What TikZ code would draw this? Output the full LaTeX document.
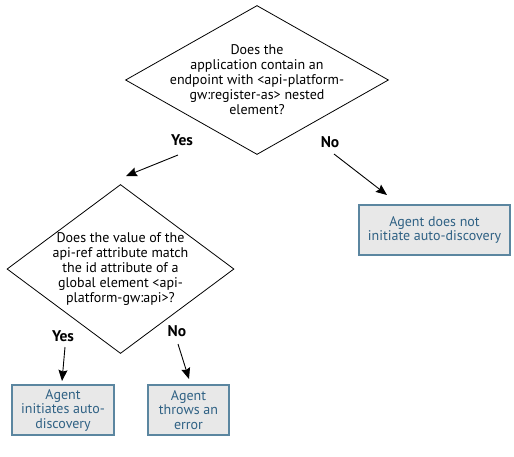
\documentclass[tikz,border=0pt]{standalone}
\usepackage{fontspec}
\setmainfont{PT Sans}
\usetikzlibrary{shapes.geometric,arrows.meta}
\definecolor{boxfill}{HTML}{E8E8E8}
\definecolor{boxline}{HTML}{5B86A0}
\definecolor{boxtext}{HTML}{2F6184}
\tikzset{
  question/.style={diamond, draw=black, line width=0.8pt, inner sep=0pt, minimum width=#1},
  qtext/.style={align=center, inner sep=0pt, font=\fontsize{14}{15}\selectfont},
  answer/.style={rectangle, draw=boxline, fill=boxfill, line width=1.2pt, text=boxtext,
    align=center, inner sep=0pt, minimum height=50pt, font=\fontsize{14}{14.5}\selectfont},
  choice/.style={font=\bfseries\fontsize{15.5}{18}\selectfont},
  flow/.style={-{Stealth[length=11pt,width=9pt,inset=1.5pt]}, line width=0.9pt}
}
\begin{document}
\begin{tikzpicture}[x=1pt,y=-1pt]
        \useasboundingbox (0,0) rectangle (514,456);
        % Domande
        \node[question=263pt, minimum height=149pt] (q1) at (257,80) {};
        \node[qtext] (q1text) at (q1.center) {Does the\\application contain an\\endpoint with <api-platform-\\gw:register-as> nested\\element?};

        \node[question=227pt, minimum height=169pt] (q2) at (120.5,269) {};
        \node[qtext] (q2text) at (q2.center) {Does the value of the\\api-ref attribute match\\the id attribute of a\\global element <api-\\platform-gw:api>?};

        % Risposte
        \node[answer, minimum width=151pt] (nodisc) at (434.5,230) {Agent does not\\initiate auto-discovery};
        \node[answer, minimum width=102pt] (disc) at (63,410) {Agent\\initiates auto-\\discovery};
        \node[answer, minimum width=81pt] (err) at (188.5,410) {Agent\\throws an\\error};

        \node[choice] (yes1) at (182,140) {Yes};
        \node[choice] (no1) at (330,142) {No};
        \node[choice] (yes2) at (63,336) {Yes};
        \node[choice] (no2) at (177,331) {No};

        \coordinate (yes1from) at (178,155);
        \coordinate (yes1to) at (126,176);
        \coordinate (no1from) at (334,154);
        \coordinate (no1to) at (387,195);
        \coordinate (yes2from) at (65,347);
        \coordinate (yes2to) at (62,381);
        \coordinate (no2from) at (178,344);
        \coordinate (no2to) at (189,379);

        \draw[flow] (yes1from) -- (yes1to);
        \draw[flow] (no1from) -- (no1to);
        \draw[flow] (yes2from) -- (yes2to);
        \draw[flow] (no2from) -- (no2to);
    \end{tikzpicture}
\end{document}
